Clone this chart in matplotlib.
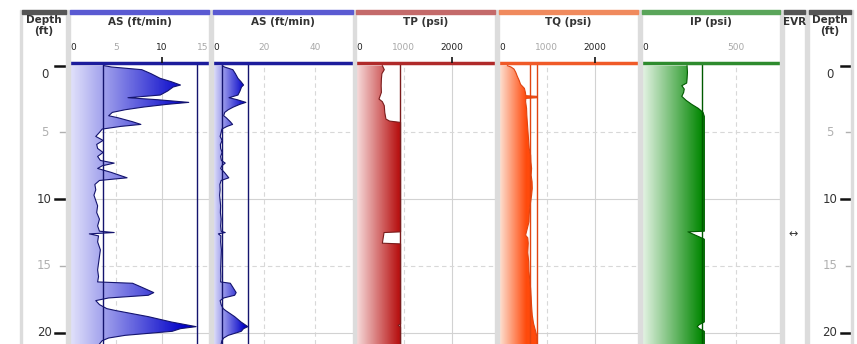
import numpy as np
import matplotlib
matplotlib.use('Agg')
import matplotlib.pyplot as plt
from matplotlib.colors import LinearSegmentedColormap
from matplotlib.transforms import blended_transform_factory
from matplotlib.patches import Rectangle

W, H = 857, 344

as_depth = [0.00, 0.10, 0.30, 0.60, 0.95, 1.20, 1.45, 1.60, 1.90, 2.20, 2.40, 2.55, 2.75, 2.90,
            3.10, 3.30, 3.50, 3.75, 3.90, 4.20, 4.40, 4.55, 4.75, 5.00, 5.30, 5.60, 5.90, 6.20,
            6.50, 6.80, 7.10, 7.30, 7.50, 7.70, 8.00, 8.40, 8.60, 8.90, 9.30, 9.70, 10.1, 10.5,
            11.0, 11.5, 12.0, 12.40, 12.50, 12.60, 12.75, 13.2, 13.8, 14.3, 14.8, 15.3, 15.8,
            16.2, 16.3, 16.6, 17.0, 17.2, 17.4, 17.6, 17.9, 18.2, 18.35, 18.8, 19.2, 19.55,
            19.7, 19.9, 20.2, 20.4, 20.6, 20.85]
as_value = [3.7, 4.5, 7.8, 8.8, 9.8, 11.0, 12.0, 11.2, 10.6, 9.8, 6.3, 9.5, 12.9, 10.5,
            8.0, 6.0, 4.6, 4.2, 5.2, 6.8, 7.7, 5.5, 3.5, 3.2, 2.8, 3.6, 2.9, 3.0,
            3.6, 3.0, 3.3, 4.8, 3.5, 3.0, 4.5, 6.2, 3.2, 2.7, 2.8, 2.6, 2.8, 3.0,
            2.9, 3.2, 3.0, 3.2, 4.8, 2.1, 3.1, 3.0, 3.3, 3.2, 3.1, 3.0, 3.1,
            3.0, 6.8, 7.8, 9.1, 8.5, 4.2, 2.8, 3.2, 4.0, 5.0, 8.5, 11.0, 13.7,
            12.0, 11.1, 6.0, 4.2, 3.5, 3.2]

tp_depth = [0.0, 0.3, 0.6, 1.0, 1.5, 2.0, 2.5, 2.7, 3.0, 3.5, 4.0, 4.15, 4.25, 12.45, 12.5,
            13.3, 13.35, 19.35, 19.45, 19.6, 20.85]
tp_value = [550, 590, 540, 530, 525, 530, 480, 550, 590, 600, 625, 700, 930, 930, 585,
            550, 930, 930, 880, 930, 930]

tq_depth = [0.00, 0.10, 0.25, 0.5, 0.8, 1.1, 1.4, 1.7, 2.0, 2.25, 2.30, 2.40, 2.45, 2.7,
            3.2, 3.7, 4.2, 4.7, 5.2, 5.7, 6.2, 6.7, 7.2, 7.7, 8.2, 8.7, 9.2, 9.7, 10.2,
            10.7, 11.2, 11.7, 12.2, 12.7, 12.9, 13.3, 14.0, 14.7, 15.4, 16.0, 16.7, 17.3,
            18.0, 18.7, 19.3, 19.9, 20.3, 20.85]
tq_value = [175, 250, 312, 350, 382, 420, 450, 530, 550, 560, 800, 800, 560, 555,
            575, 580, 590, 600, 610, 620, 630, 660, 665, 680, 670, 690, 694, 680, 660,
            640, 630, 625, 590, 555, 600, 610, 600, 620, 625, 640, 660, 670,
            680, 694, 720, 764, 790, 800]

ip_depth = [0.0, 0.5, 1.0, 1.3, 1.5, 1.75, 2.0, 2.3, 2.6, 2.9, 3.2, 3.5, 3.8, 12.40,
            12.45, 12.95, 13.0, 19.2, 19.4, 19.55, 19.7, 19.9, 20.85]
ip_value = [240, 242, 240, 238, 212, 225, 222, 212, 235, 265, 300, 325, 332, 332,
            245, 325, 332, 332, 305, 294, 305, 332, 332]

as_limits = [3.6, 13.8]
tp_limits = [920]
tq_limits = [646, 800]
ip_limits = [322]

depth_ticks = [0, 5, 10, 15, 20]
evr_depth = 12.6

D_TOP, D_BOT = -0.2, 20.85
Y_AXIS = 63


def box(x0, x1, y0, y1):
    return [x0 / W, 1 - y1 / H, (x1 - x0) / W, (y1 - y0) / H]


fig = plt.figure(figsize=(W / 100, H / 100), dpi=100)
fig.patch.set_facecolor('white')

# light gray separators between tracks
for gx0, gx1 in [(20, 22), (66, 70), (209, 213), (353, 356), (495, 499),
                 (638, 642), (780, 784), (805, 809), (851, 853)]:
    fig.patches.append(Rectangle((gx0 / W, 0), (gx1 - gx0) / W, 1 - 10 / H,
                                 transform=fig.transFigure, color='#dcdcdc', zorder=0))

tracks = [
    dict(title='AS (ft/min)', x0=70, x1=209, xmax=15.1, depth=as_depth, value=as_value,
         ticks=[0, 5, 10, 15], major=[0, 10], solid=[10], dashed=[5], cmax=12.5,
         bar='#5a5ad2', axis='#1c1c9c', cmap=['#e2e2fb', '#0000c8'], line='#14146e',
         limits=as_limits),
    dict(title='AS (ft/min)', x0=213, x1=353, xmax=55, depth=as_depth, value=as_value,
         ticks=[0, 20, 40], major=[0], solid=[], dashed=[20, 40], cmax=12.5,
         bar='#5a5ad2', axis='#1c1c9c', cmap=['#e2e2fb', '#0000c8'], line='#14146e',
         limits=as_limits),
    dict(title='TP (psi)', x0=356, x1=495, xmax=2900, depth=tp_depth, value=tp_value,
         ticks=[0, 1000, 2000], major=[0, 2000], solid=[2000], dashed=[1000], cmax=880,
         bar='#c46a6a', axis='#b02a2a', cmap=['#f8dede', '#b81414'], line='#7a1c1c',
         limits=tp_limits),
    dict(title='TQ (psi)', x0=499, x1=638, xmax=2900, depth=tq_depth, value=tq_value,
         ticks=[0, 1000, 2000], major=[0, 2000], solid=[2000], dashed=[1000], cmax=560,
         bar='#f08a5d', axis='#f05a28', cmap=['#fde4d6', '#ff4a0c'], line='#e04410',
         limits=tq_limits),
    dict(title='IP (psi)', x0=642, x1=780, xmax=735, depth=ip_depth, value=ip_value,
         ticks=[0, 500], major=[0], solid=[], dashed=[500], cmax=320,
         bar='#5aa55a', axis='#2e8b2e', cmap=['#e6f4e6', '#008600'], line='#005a00',
         limits=ip_limits),
]

for t in tracks:
    ax = fig.add_axes(box(t['x0'], t['x1'], Y_AXIS, H))
    ax.set_facecolor('white')
    ax.set_xlim(0, t['xmax'])
    ax.set_ylim(D_BOT, D_TOP)
    for s in ['left', 'right', 'bottom']:
        ax.spines[s].set_visible(False)
    ax.spines['top'].set_color(t['axis'])
    ax.spines['top'].set_linewidth(2.5)
    ax.spines['top'].set_zorder(6)

    # grid
    for v in t['solid']:
        ax.axvline(v, color='#d2d2d2', lw=0.8, zorder=0)
    for v in t['dashed']:
        ax.axvline(v, color='#d8d8d8', lw=0.8, ls=(0, (4, 3)), zorder=0)
    for d in depth_ticks[1:]:
        if d % 10 == 0:
            ax.axhline(d, color='#d2d2d2', lw=0.8, zorder=0)
        else:
            ax.axhline(d, color='#d8d8d8', lw=0.8, ls=(0, (4, 3)), zorder=0)

    # gradient fill between 0 and the curve
    cmap = LinearSegmentedColormap.from_list('c', t['cmap'])
    poly = ax.fill_betweenx(t['depth'], 0, t['value'], facecolor='none', edgecolor='none')
    grad = np.linspace(0, 1, 256).reshape(1, -1)
    gmax = max(t['value'])
    im = ax.imshow(np.clip(grad * gmax / t['cmax'], 0, 1), extent=[0, gmax, D_BOT, D_TOP],
                   aspect='auto', cmap=cmap, vmin=0, vmax=1,
                   interpolation='bilinear', zorder=1)
    im.set_clip_path(poly.get_paths()[0], transform=ax.transData)
    ax.plot(t['value'], t['depth'], color=t['line'], lw=0.8, zorder=3)
    for v in t['limits']:
        ax.axvline(v, color=t['line'], lw=1.0, zorder=4)
    ax.set_xlim(0, t['xmax'])
    ax.set_ylim(D_BOT, D_TOP)

    # top scale
    ax.xaxis.tick_top()
    ax.set_xticks(t['ticks'])
    ax.set_xticklabels([str(v) for v in t['ticks']])
    ax.tick_params(axis='x', length=0, pad=8, labelsize=6.5)
    for v, lab in zip(t['ticks'], ax.get_xticklabels()):
        lab.set_color('#222222' if v in t['major'] else '#a8a8a8')
        if v == 0:
            lab.set_horizontalalignment('left')
        elif v == t['ticks'][-1] and t['xmax'] - v < 0.05 * t['xmax']:
            lab.set_horizontalalignment('right')
    ax.set_yticks([])
    trans = blended_transform_factory(ax.transData, ax.transAxes)
    axh = H - Y_AXIS
    for v in t['major']:
        ln = 15 if v == 0 else 6
        ax.vlines(v, 1, 1 + ln / axh, transform=trans, color='#111111', lw=1.2,
                  clip_on=False, zorder=7)

    # header
    fig.patches.append(Rectangle((t['x0'] / W, 1 - 14 / H), (t['x1'] - t['x0']) / W, 4 / H,
                                 transform=fig.transFigure, color=t['bar'], zorder=2))
    fig.text((t['x0'] + t['x1']) / 2 / W, 1 - 22 / H, t['title'], ha='center', va='center',
             fontsize=7.5, fontweight='bold', color='#333333')


def depth_track(x0, x1, label_x, tick_x0):
    ax = fig.add_axes(box(x0, x1, Y_AXIS, H))
    ax.set_ylim(D_BOT, D_TOP)
    ax.set_xlim(x0, x1)
    ax.axis('off')
    for d in depth_ticks:
        major = d % 10 == 0
        col = '#333333' if major else '#b0b0b0'
        va = 'top' if d == 0 else 'center'
        ax.text(label_x, d + (0.15 if d == 0 else 0), str(d), ha='center', va=va,
                fontsize=8.5, color=col)
        if major:
            ax.plot([tick_x0, tick_x0 + 11], [d, d], color='#111111', lw=1.8, clip_on=False)
        else:
            ax.plot([tick_x0 + 5, tick_x0 + 10], [d, d], color='#b0b0b0', lw=1, clip_on=False)
    fig.patches.append(Rectangle((x0 / W, 1 - 14 / H), (x1 - x0) / W, 4 / H,
                                 transform=fig.transFigure, color='#555555', zorder=2))
    fig.text((x0 + x1) / 2 / W, 1 - 15 / H, 'Depth\n(ft)', ha='center', va='top',
             fontsize=7.5, fontweight='bold', color='#333333', linespacing=1.1)


depth_track(22, 66, 44.5, 55)
depth_track(809, 851, 830, 841)

# EVR track
ax = fig.add_axes(box(784, 805, Y_AXIS, H))
ax.set_ylim(D_BOT, D_TOP)
ax.set_xlim(0, 1)
ax.axis('off')
ax.text(0.45, evr_depth, '\u2194', ha='center', va='center', fontsize=8, color='#333333')
fig.patches.append(Rectangle((784 / W, 1 - 14 / H), 21 / W, 4 / H,
                             transform=fig.transFigure, color='#555555', zorder=2))
fig.text(794.5 / W, 1 - 22 / H, 'EVR', ha='center', va='center',
         fontsize=7.5, fontweight='bold', color='#333333')

fig.savefig('out.png', dpi=100, facecolor='white')
